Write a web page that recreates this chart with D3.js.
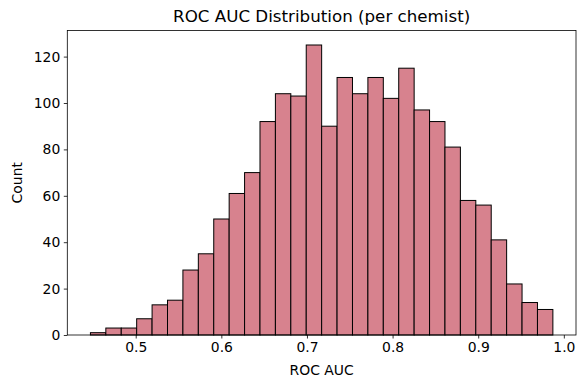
<!DOCTYPE html>
<html>
<head>
<meta charset="utf-8">
<script src="https://cdn.jsdelivr.net/npm/d3@7"></script>
<style>
  body { margin: 0; background: #fff; }
  text { font-family: "DejaVu Sans", sans-serif; fill: #000; }
</style>
</head>
<body>
<div id="chart"></div>
<script>
// histogram counts, one per bin
var counts = [1, 3, 3, 7, 13, 15, 28, 35, 50, 61, 70, 92, 104, 103, 125,
              90, 111, 104, 111, 102, 115, 97, 92, 81, 58, 56, 41, 22, 14, 11];
// bins span this range evenly
var binLo = 0.4471, binHi = 0.9872;
var xTicks = [0.5, 0.6, 0.7, 0.8, 0.9, 1.0];
var yTicks = [0, 20, 40, 60, 80, 100, 120];

var W = 582, H = 382;
var m = { top: 30.5, right: 6, bottom: 47, left: 67.3 };

var svg = d3.select('#chart').append('svg')
  .attr('width', W)
  .attr('height', H);

var n = counts.length;
var step = (binHi - binLo) / n;
var bins = counts.map(function(c, i) {
  return { x0: binLo + i * step, x1: binLo + (i + 1) * step, count: c };
});

// matplotlib style 5% margins on x, 5% headroom on y
var pad = (binHi - binLo) * 0.05;
var x = d3.scaleLinear()
  .domain([binLo - pad, binHi + pad])
  .range([m.left, W - m.right]);
var y = d3.scaleLinear()
  .domain([0, d3.max(counts) * 1.05])
  .range([H - m.bottom, m.top]);

// bars
svg.append('g').selectAll('rect')
  .data(bins)
  .enter()
  .append('rect')
  .attr('x', function(d) { return x(d.x0); })
  .attr('width', function(d) { return x(d.x1) - x(d.x0); })
  .attr('y', function(d) { return y(d.count); })
  .attr('height', function(d) { return y(0) - y(d.count); })
  .attr('fill', '#d7828e')
  .attr('stroke', '#000')
  .attr('stroke-width', 1);

// axes
var xAxis = svg.append('g')
  .attr('transform', 'translate(0,' + (H - m.bottom) + ')')
  .call(d3.axisBottom(x).tickValues(xTicks).tickFormat(d3.format('.1f')).tickSizeOuter(0).tickSize(3.5).tickPadding(3.5));
var yAxis = svg.append('g')
  .attr('transform', 'translate(' + m.left + ',0)')
  .call(d3.axisLeft(y).tickValues(yTicks).tickFormat(d3.format('d')).tickSizeOuter(0).tickSize(3.5).tickPadding(3.5));

[xAxis, yAxis].forEach(function(a) {
  a.select('.domain').remove();
  a.selectAll('text').attr('font-size', 13.9).attr('font-family', 'DejaVu Sans').attr('fill', '#000');
  a.selectAll('line').attr('stroke', '#000').attr('stroke-width', 0.8);
});

// frame
svg.append('rect')
  .attr('x', m.left)
  .attr('y', m.top)
  .attr('width', W - m.right - m.left)
  .attr('height', H - m.bottom - m.top)
  .attr('fill', 'none')
  .attr('stroke', '#000')
  .attr('stroke-width', 0.8);

// title and labels
svg.append('text')
  .attr('x', (m.left + W - m.right) / 2)
  .attr('y', 22)
  .attr('text-anchor', 'middle')
  .attr('font-size', 16.7)
  .text('ROC AUC Distribution (per chemist)');

svg.append('text')
  .attr('x', (m.left + W - m.right) / 2)
  .attr('y', 375)
  .attr('text-anchor', 'middle')
  .attr('font-size', 13.9)
  .text('ROC AUC');

svg.append('text')
  .attr('transform', 'translate(22,' + ((m.top + H - m.bottom) / 2) + ') rotate(-90)')
  .attr('text-anchor', 'middle')
  .attr('font-size', 13.9)
  .text('Count');
</script>
</body>
</html>
